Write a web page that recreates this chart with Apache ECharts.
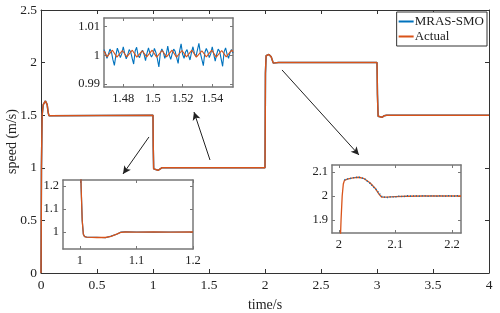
<!DOCTYPE html>
<html>
<head>
<meta charset="utf-8">
<script src="https://cdn.jsdelivr.net/npm/echarts@6/dist/echarts.min.js"></script>
<style>html,body{margin:0;padding:0;background:#fff}#c{width:500px;height:313px}</style>
</head>
<body>
<div id="c"></div>
<script>
// ---------- main chart data (time in s, speed in m/s) ----------
var mainT = [0, 0.004, 0.01, 0.02, 0.04, 0.055, 0.065, 0.072, 0.085, 1.0, 1.002, 1.006, 1.01, 1.045, 1.06, 1.078, 2.0, 2.004, 2.01, 2.035, 2.055, 2.074, 2.09, 2.12, 3.0, 3.004, 3.01, 3.025, 3.045, 3.065, 3.085, 4.0];
var mainActual = [0, 1.0, 1.5, 1.6, 1.635, 1.6, 1.52, 1.495, 1.5, 1.5, 1.2, 0.99, 0.978, 0.976, 0.985, 1.0, 1.0, 1.9, 2.065, 2.078, 2.055, 1.995, 1.996, 2.0, 2.0, 1.7, 1.49, 1.475, 1.48, 1.495, 1.5, 1.5];
var mainEstimate = [0, 1.0, 1.5, 1.6, 1.635, 1.6, 1.52, 1.495, 1.5, 1.5, 1.2, 0.99, 0.978, 0.976, 0.985, 1.0, 1.0, 1.9, 2.065, 2.078, 2.055, 1.995, 1.996, 2.0, 2.0, 1.7, 1.49, 1.475, 1.48, 1.495, 1.5, 1.5];
var xTicks = [0, 0.5, 1, 1.5, 2, 2.5, 3, 3.5, 4];
var yTicks = [0, 0.5, 1, 1.5, 2, 2.5];

// ---------- inset 1 (steady state ripple near 1 m/s) ----------
var in1Start = 1.467, in1Step = 0.001;
var in1Estimate = [1.0020,1.0008,0.9990,1.0004,1.0022,1.0012,0.9985,0.9965,1.0000,1.0025,
  1.0010,0.9992,1.0006,1.0030,1.0005,0.9988,1.0002,1.0020,1.0012,0.9990,
  0.9970,1.0015,1.0028,1.0000,0.9992,1.0010,1.0018,1.0004,0.9982,1.0008,
  1.0026,1.0006,0.9994,1.0004,1.0024,1.0010,0.9988,0.9960,1.0008,1.0022,
  1.0012,0.9990,1.0004,1.0032,1.0002,0.9986,1.0006,1.0022,1.0014,0.9992,
  0.9972,1.0016,1.0040,1.0004,0.9990,1.0012,1.0020,1.0000,0.9984,1.0010,
  1.0030,1.0006,0.9996,1.0002,1.0042,1.0008,0.9986,0.9964,1.0010,1.0024,
  1.0012,0.9992,1.0006,1.0030,1.0004,0.9980,1.0004,1.0022,1.0014,0.9988,
  0.9962,1.0012,1.0026,1.0004,0.9990,1.0010,1.0020,1.0008];
var in1ActualT = [1.4670,1.4690,1.4727,1.4757,1.4794,1.4824,1.4861,1.4891,1.4928,1.4958,1.4995,1.5025,1.5062,1.5092,1.5129,1.5159,1.5196,1.5226,1.5263,1.5293,1.5330,1.5360,1.5397,1.5427,1.5464,1.5494,1.5531,1.5540];
var in1Actual = [1.0015,0.9995,1.0018,0.9994,1.0017,0.9995,1.0018,0.9994,1.0016,0.9995,1.0018,0.9994,1.0017,0.9995,1.0018,0.9994,1.0017,0.9995,1.0018,0.9994,1.0016,0.9995,1.0018,0.9994,1.0017,0.9995,1.0018,1.0012];
var in1XTicks = [1.48, 1.5, 1.52, 1.54];
var in1YTicks = [0.99, 1, 1.01];

// ---------- inset 2 (step down at t = 1 s) ----------
var in2T = [0.99, 1.0, 1.002, 1.004, 1.006, 1.008, 1.012, 1.03, 1.045, 1.055, 1.065, 1.072, 1.08, 1.1, 1.13, 1.16, 1.2];
var in2Actual = [1.5, 1.5, 1.2, 1.05, 0.99, 0.98, 0.978, 0.976, 0.976, 0.981, 0.991, 0.998, 1.0, 0.999, 1.0, 0.999, 1.0];
var in2Estimate = [1.5, 1.5, 1.2, 1.05, 0.99, 0.981, 0.977, 0.977, 0.975, 0.982, 0.990, 0.999, 1.001, 1.0, 0.999, 1.0, 1.0];
var in2XTicks = [1, 1.1, 1.2];
var in2YTicks = [1, 1.1, 1.2];

// ---------- inset 3 (step up at t = 2 s) ----------
var in3T = [1.99, 2.0, 2.0025, 2.004, 2.006, 2.008, 2.010, 2.015, 2.025, 2.035, 2.045, 2.055, 2.065, 2.072, 2.076, 2.085, 2.10, 2.12, 2.15, 2.216];
var in3Actual = [1.0, 1.0, 1.80, 1.90, 2.00, 2.05, 2.065, 2.070, 2.075, 2.078, 2.072, 2.055, 2.030, 2.005, 1.995, 1.995, 1.997, 1.999, 2.000, 2.000];
var in3EstT = [2.010,2.014,2.018,2.022,2.026,2.030,2.034,2.038,2.042,2.046,2.050,2.054,2.058,2.062,2.066,2.070,2.074,2.078,2.082,2.086,2.090,2.094,2.098,2.102,2.106,2.110,2.114,2.118,2.122,2.126,2.130,2.134,2.138,2.142,2.146,2.150,2.154,2.158,2.162,2.166,2.170,2.174,2.178,2.182,2.186,2.190,2.194,2.198,2.202,2.206,2.210,2.214];
var in3Estimate = [2.067,2.071,2.072,2.074,2.076,2.077,2.079,2.077,2.074,2.071,2.062,2.056,2.046,2.036,2.027,2.015,2.003,1.994,1.996,1.994,1.997,1.995,1.998,1.996,1.999,1.997,2.000,1.998,2.001,1.999,2.001,1.999,2.001,1.999,2.001,1.999,2.001,1.999,2.001,1.999,2.001,1.999,2.001,1.999,2.001,1.999,2.001,1.999,2.001,1.999,2.001,1.999];
var in3XTicks = [2, 2.1, 2.2];
var in3YTicks = [1.9, 2, 2.1];

// ---------- annotation arrows (data coords of main axes) ----------
var arrows = [
  [[0.964, 1.293], [0.732, 0.941]],
  [[1.509, 1.074], [1.366, 1.530]],
  [[2.152, 1.930], [2.839, 1.122]]
];

var BLUE = '#0072BD', ORANGE = '#D95319';
var FONT = 'Liberation Serif';
function zip(a, b) { return a.map(function (v, i) { return [v, b[i]]; }); }
function fmt(v) { return String(+(+v).toFixed(4)); }

var grids = [
  {left: 41, right: 11, top: 10, bottom: 40, outerBoundsMode: 'none', containLabel: false},
  {left: 104, top: 18, width: 129, height: 69, show: true, backgroundColor: '#fff', borderWidth: 0, z: 3, outerBoundsMode: 'none', containLabel: false},
  {left: 63, top: 180, width: 130, height: 69, show: true, backgroundColor: '#fff', borderWidth: 0, z: 3, outerBoundsMode: 'none', containLabel: false},
  {left: 332, top: 165, width: 129, height: 68, show: true, backgroundColor: '#fff', borderWidth: 0, z: 3, outerBoundsMode: 'none', containLabel: false}
];

var xAxes = [], yAxes = [];
function addAxes(gi, xr, yr, xt, yt, lineColor, lineW, fs, tickLen, mainNames) {
  var z = gi === 0 ? 0 : 4;
  var base = {
    type: 'value', gridIndex: gi, z: z,
    axisLine: {show: true, onZero: false, lineStyle: {color: lineColor, width: lineW}},
    splitLine: {show: false}
  };
  var xb = Object.assign({}, base, {position: 'bottom', min: xr[0], max: xr[1],
    axisTick: {show: true, inside: true, length: tickLen, customValues: xt, lineStyle: {color: lineColor}},
    axisLabel: {show: true, customValues: xt, formatter: fmt, color: '#222', fontFamily: FONT, fontSize: fs, margin: 5}});
  if (mainNames) {
    xb.name = 'time/s'; xb.nameLocation = 'middle'; xb.nameGap = 25; xb.nameMoveOverlap = false;
    xb.nameTextStyle = {color: '#222', fontFamily: FONT, fontSize: 14};
  }
  var xt2 = Object.assign({}, base, {position: 'top', min: xr[0], max: xr[1],
    axisTick: {show: true, inside: true, length: tickLen, customValues: xt, lineStyle: {color: lineColor}},
    axisLabel: {show: false}});
  var yl = Object.assign({}, base, {position: 'left', min: yr[0], max: yr[1],
    axisTick: {show: true, inside: true, length: tickLen, customValues: yt, lineStyle: {color: lineColor}},
    axisLabel: {show: true, customValues: yt, formatter: fmt, color: '#222', fontFamily: FONT, fontSize: fs, margin: 4}});
  if (mainNames) {
    yl.name = 'speed (m/s)'; yl.nameLocation = 'middle'; yl.nameGap = 22; yl.nameMoveOverlap = false;
    yl.nameTextStyle = {color: '#222', fontFamily: FONT, fontSize: 14};
  }
  var yr2 = Object.assign({}, base, {position: 'right', min: yr[0], max: yr[1],
    axisTick: {show: true, inside: true, length: tickLen, customValues: yt, lineStyle: {color: lineColor}},
    axisLabel: {show: false}});
  var xi = xAxes.length, yi = yAxes.length;
  xAxes.push(xb, xt2); yAxes.push(yl, yr2);
  return {x: xi, y: yi};
}

var a0 = addAxes(0, [0, 4], [0, 2.5], xTicks, yTicks, '#333', 1, 13.5, 4, true);
var a1 = addAxes(1, [1.467, 1.554], [0.989, 1.013], in1XTicks, in1YTicks, '#777', 1.5, 12.5, 3, false);
var a2 = addAxes(2, [0.97, 1.2], [0.926, 1.226], in2XTicks, in2YTicks, '#777', 1.5, 12.5, 3, false);
var a3 = addAxes(3, [1.988, 2.216], [1.846, 2.129], in3XTicks, in3YTicks, '#777', 1.5, 12.5, 3, false);

function line(name, ax, data, color, width, z, extra) {
  return Object.assign({
    name: name, type: 'line', xAxisIndex: ax.x, yAxisIndex: ax.y, data: data,
    showSymbol: false, symbol: 'none', clip: true, z: z,
    lineStyle: {color: color, width: width}, itemStyle: {color: color}
  }, extra || {});
}

var in1EstData = in1Estimate.map(function (v, i) { return [in1Start + i * in1Step, v]; });

var series = [
  line('MRAS-SMO', a0, zip(mainT, mainEstimate), BLUE, 1.5, 2),
  line('Actual', a0, zip(mainT, mainActual), ORANGE, 1.5, 3, {
    markLine: {
      silent: true, symbol: ['none', 'arrow'], symbolSize: [6, 8],
      label: {show: false},
      lineStyle: {color: '#222', width: 1, type: 'solid'},
      data: arrows.map(function (a) { return [{coord: a[0]}, {coord: a[1]}]; })
    }
  }),
  line('MRAS-SMO', a1, in1EstData, BLUE, 1.1, 5),
  line('Actual', a1, zip(in1ActualT, in1Actual), ORANGE, 1.1, 6),
  line('MRAS-SMO', a2, zip(in2T, in2Estimate), BLUE, 1.2, 5),
  line('Actual', a2, zip(in2T, in2Actual), ORANGE, 1.3, 6),
  line('Actual', a3, zip(in3T, in3Actual), ORANGE, 1.3, 5),
  line('MRAS-SMO', a3, zip(in3EstT, in3Estimate), BLUE, 1.5, 6, {lineStyle: {color: BLUE, width: 1.5, type: [1, 2]}})
];

var chart = echarts.init(document.getElementById('c'), null, {renderer: 'canvas'});
chart.setOption({
  animation: false,
  backgroundColor: '#fff',
  grid: grids,
  xAxis: xAxes,
  yAxis: yAxes,
  legend: {
    data: ['MRAS-SMO', 'Actual'], orient: 'vertical', right: 13, top: 12,
    backgroundColor: '#fff', borderColor: '#333', borderWidth: 1, padding: [3, 3, 3, 2],
    itemGap: 2, itemWidth: 15, itemHeight: 2, icon: 'rect',
    textStyle: {color: '#222', fontFamily: FONT, fontSize: 13, padding: [0, 0, 0, -4]}
  },
  series: series
});
</script>
</body>
</html>
